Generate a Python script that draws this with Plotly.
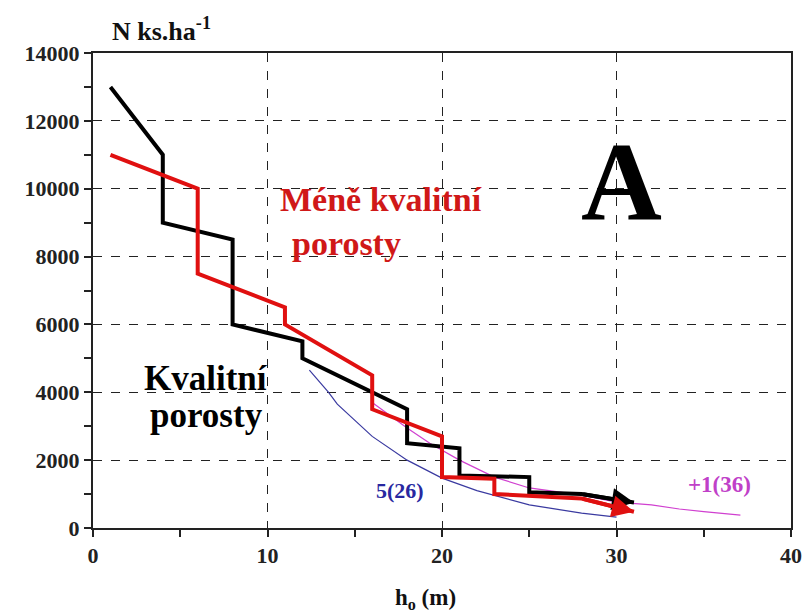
import plotly.graph_objects as go

# Kvalitní porosty (black step line)
h_kval = [1, 4, 4, 8, 8, 12, 12, 18, 18, 21, 21, 25, 25, 28, 31]
n_kval = [13000, 11000, 9000, 8500, 6000, 5500, 5000, 3500, 2500, 2350, 1550, 1500, 1050, 1000, 750]

# Méně kvalitní porosty (red step line)
h_mene = [1, 6, 6, 11, 11, 16, 16, 20, 20, 23, 23, 28, 31]
n_mene = [11000, 10000, 7500, 6500, 6000, 4500, 3500, 2700, 1500, 1450, 1000, 870, 480]

# thin blue curve 5(26)
h_blue = [12.4, 13.5, 14, 16, 18, 20, 22, 24, 25, 26, 28, 30]
n_blue = [4650, 4000, 3650, 2700, 2000, 1470, 1100, 810, 680, 600, 440, 320]

# thin magenta curve +1(36)
h_mag = [16, 18, 19.3, 20, 21, 23, 25, 28, 30, 32, 33.6, 35, 37.1]
n_mag = [3700, 2950, 2500, 2300, 2000, 1500, 1180, 970, 760, 680, 560, 480, 380]

x_ticks = [0, 10, 20, 30, 40]
y_ticks = [0, 2000, 4000, 6000, 8000, 10000, 12000, 14000]

SERIF = "Liberation Serif"

fig = go.Figure()
fig.add_trace(go.Scatter(x=h_blue, y=n_blue, mode="lines", line=dict(color="#3a3aa0", width=1.2), hoverinfo="skip"))
fig.add_trace(go.Scatter(x=h_mag, y=n_mag, mode="lines", line=dict(color="#d040d0", width=1.2), hoverinfo="skip"))
fig.add_trace(go.Scatter(x=h_kval, y=n_kval, mode="lines", line=dict(color="#000000", width=4), hoverinfo="skip"))
fig.add_trace(go.Scatter(x=h_mene, y=n_mene, mode="lines", line=dict(color="#e01010", width=4), hoverinfo="skip"))

# arrowheads at the ends of the two step lines
for hx, ny, col in [(h_kval, n_kval, "#000000"), (h_mene, n_mene, "#e01010")]:
    fig.add_annotation(x=hx[-1], y=ny[-1], ax=hx[-2], ay=ny[-2], xref="x", yref="y", axref="x", ayref="y",
                       showarrow=True, arrowhead=2, arrowsize=1.1, arrowwidth=4, arrowcolor=col, text="")

texts = [
    dict(x=16.5, y=9670, text="Méně kvalitní", color="#d01818", size=34),
    dict(x=14.5, y=8400, text="porosty", color="#d01818", size=34),
    dict(x=6.5, y=4420, text="Kvalitní", color="#000000", size=35),
    dict(x=6.5, y=3330, text="porosty", color="#000000", size=35),
    dict(x=30.3, y=10200, text="A", color="#000000", size=112),
    dict(x=17.6, y=1120, text="5(26)", color="#2828a0", size=22),
    dict(x=35.9, y=1270, text="+1(36)", color="#c040c8", size=23),
]
for t in texts:
    fig.add_annotation(x=t["x"], y=t["y"], text="<b>%s</b>" % t["text"],
                       showarrow=False, xref="x", yref="y",
                       font=dict(family=SERIF, size=t["size"], color=t["color"]))

fig.add_annotation(x=0.024, y=1.01, xref="paper", yref="paper", xanchor="left", yanchor="bottom",
                   text="<b>N ks.ha<sup>-1</sup></b>", showarrow=False,
                   font=dict(family=SERIF, size=26, color="#111"))
fig.add_annotation(x=0.477, y=-0.115, xref="paper", yref="paper", xanchor="center", yanchor="top",
                   text="<b>h<sub>o</sub> (m)</b>", showarrow=False,
                   font=dict(family=SERIF, size=23, color="#111"))

axis_common = dict(showline=True, linecolor="#222", linewidth=2, mirror=True,
                   ticks="outside", ticklen=7, tickwidth=2, tickcolor="#222",
                   showgrid=True, gridcolor="#222", griddash="dash", gridwidth=1.3,
                   zeroline=False, automargin=False,
                   tickfont=dict(family=SERIF, size=22, color="#222"))

fig.update_xaxes(range=[0, 40], tickmode="array", tickvals=x_ticks, ticktext=["<b>%d</b>" % v for v in x_ticks],
                 minor=dict(dtick=5, ticks="outside", ticklen=7, tickwidth=2, tickcolor="#222", showgrid=False),
                 **axis_common)
fig.update_yaxes(range=[0, 14000], tickmode="array", tickvals=y_ticks, ticktext=["<b>%d</b>" % v for v in y_ticks],
                 minor=dict(dtick=1000, ticks="outside", ticklen=7, tickwidth=2, tickcolor="#222", showgrid=False),
                 **axis_common)

fig.update_layout(width=804, height=613, margin=dict(l=93, r=13, t=53, b=85),
                  plot_bgcolor="white", paper_bgcolor="white", showlegend=False,
                  font=dict(family=SERIF))

# remove the default page margin so the figure fills the window exactly
fig.write_html("out.html", config={"displayModeBar": False},
               post_script="document.body.style.margin='0';document.body.style.overflow='hidden';")
